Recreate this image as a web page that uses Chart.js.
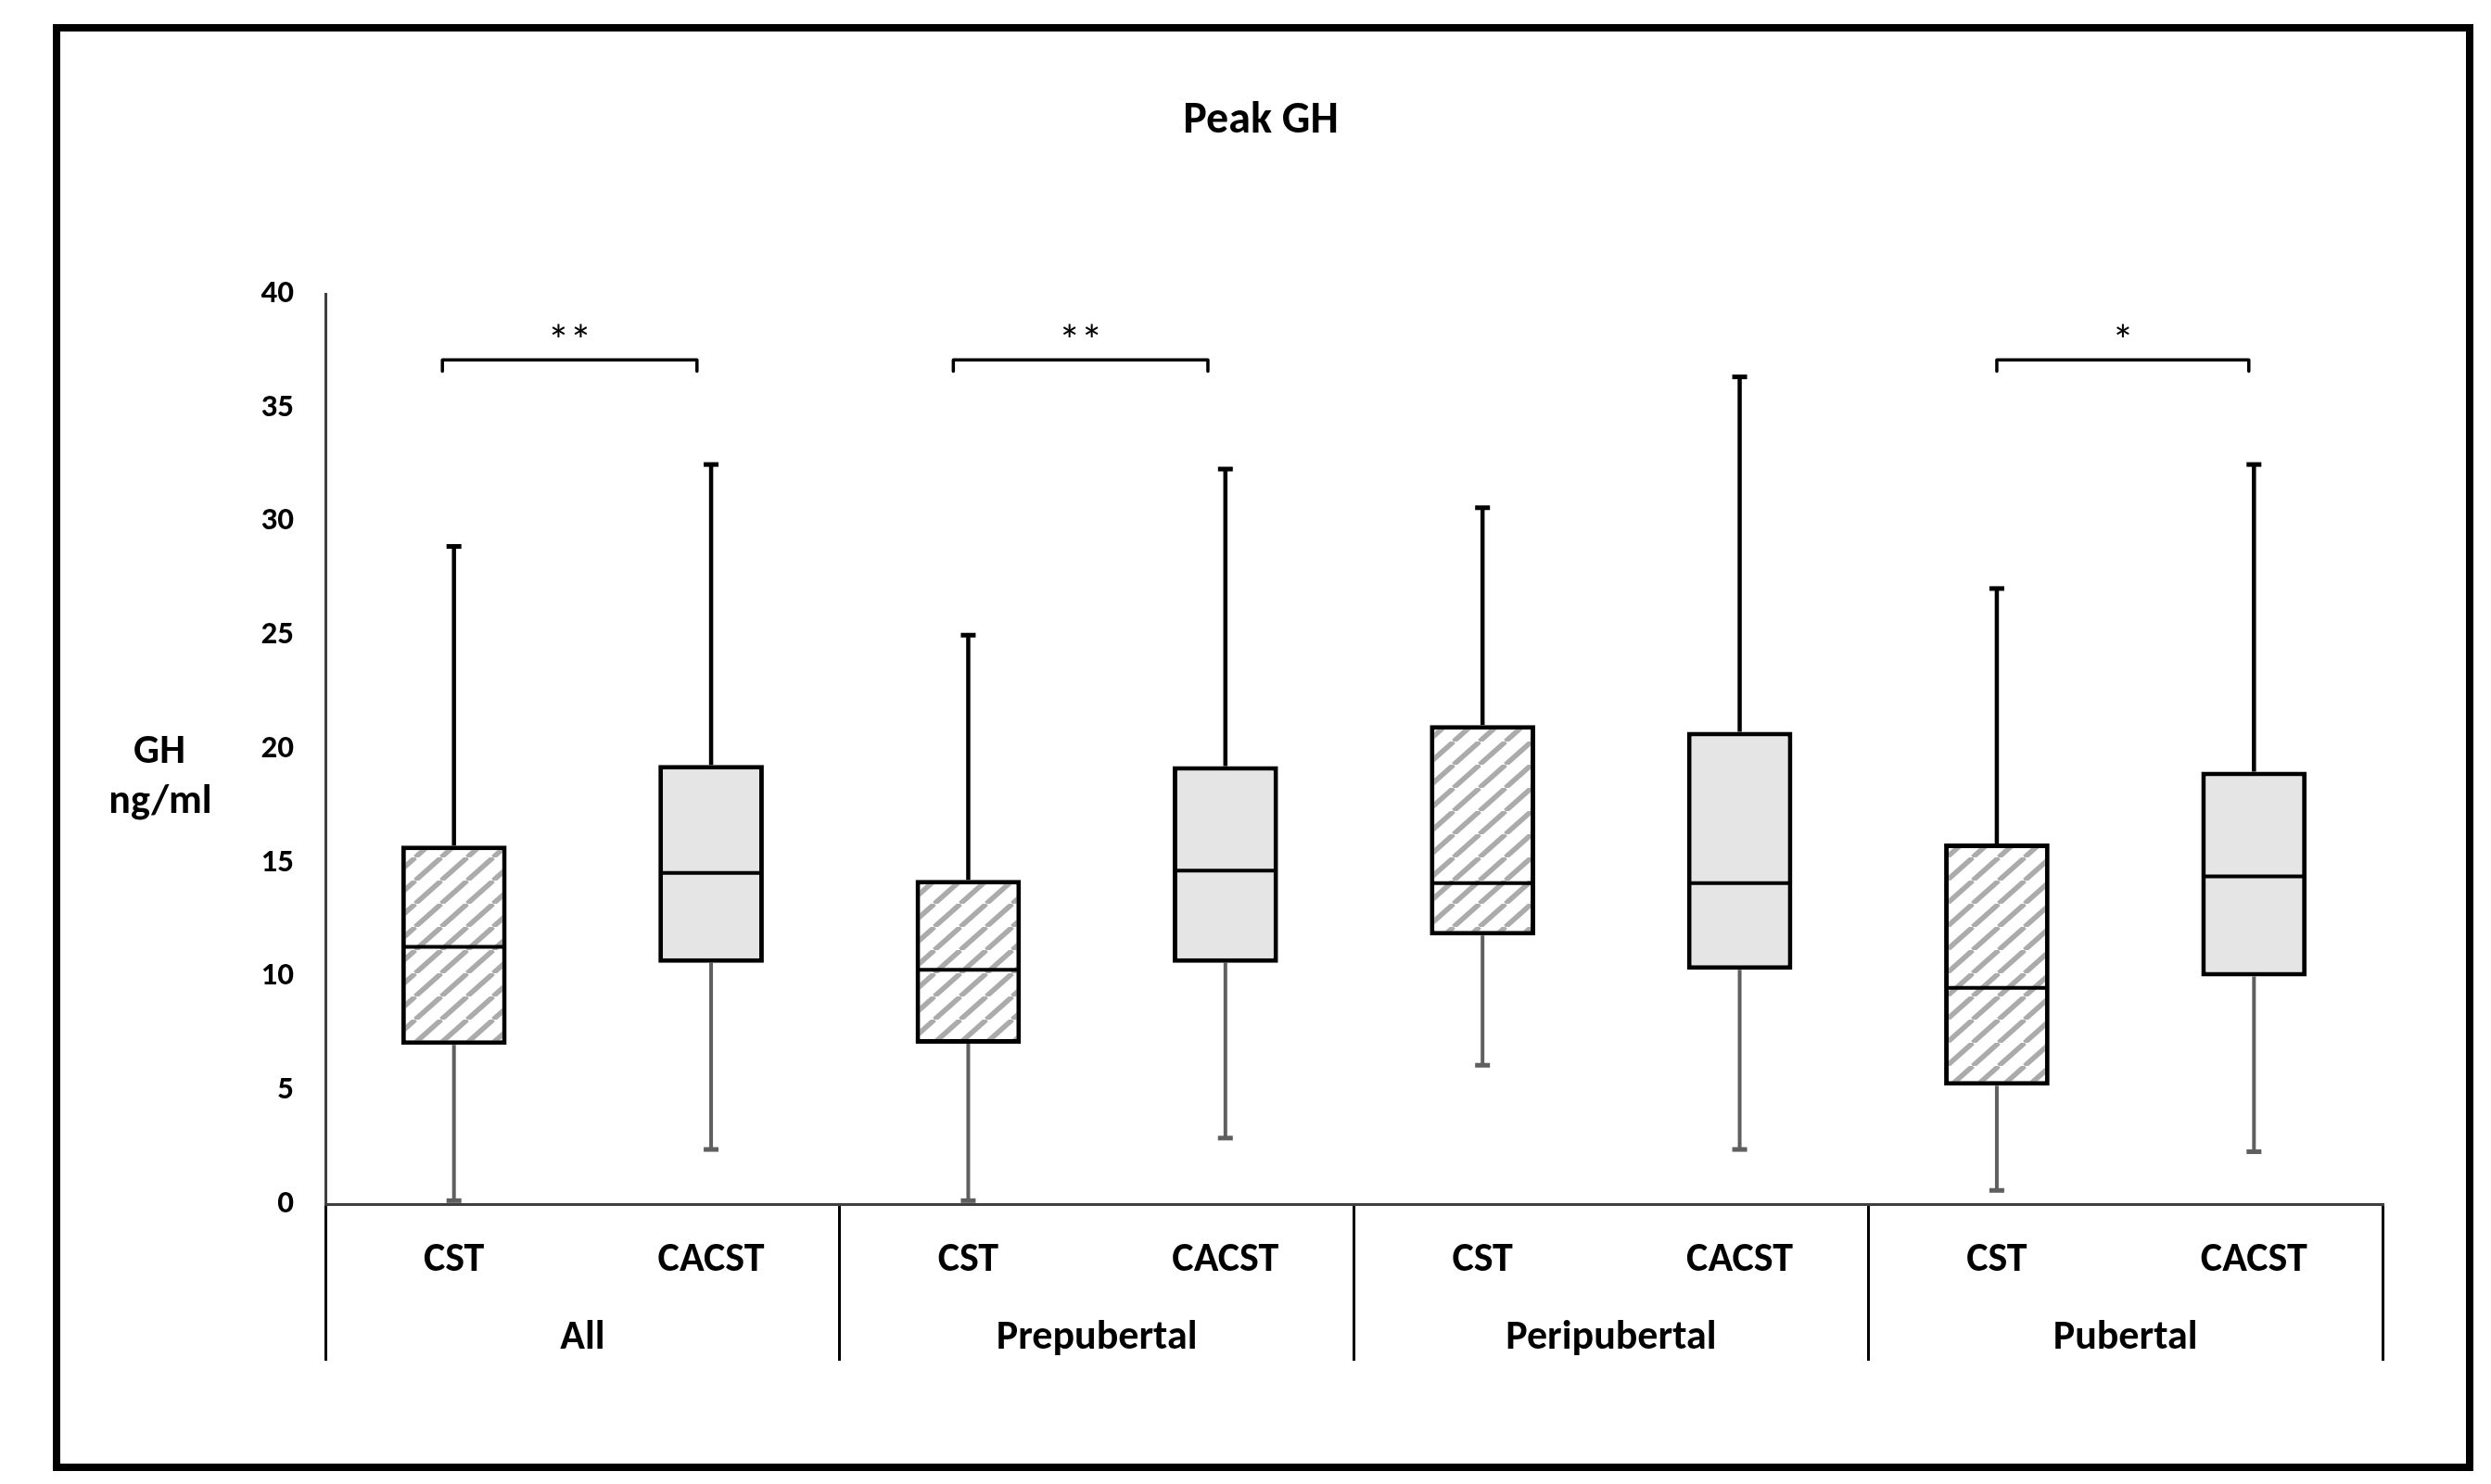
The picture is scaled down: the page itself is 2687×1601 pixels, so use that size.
<!DOCTYPE html>
<html>
<head>
<meta charset="utf-8">
<script src="https://cdn.jsdelivr.net/npm/chart.js@4.4.1/dist/chart.umd.min.js"></script>
<style>
  html, body { margin: 0; padding: 0; background: #ffffff; }
  #wrap { position: relative; width: 2687px; height: 1601px; }
</style>
</head>
<body>
<div id="wrap"><canvas id="c"></canvas></div>
<script>
// ---------------- data ----------------
const categories = ['CST', 'CACST', 'CST', 'CACST', 'CST', 'CACST', 'CST', 'CACST'];
const groups = ['All', 'Prepubertal', 'Peripubertal', 'Pubertal'];
const whiskerLow  = [0.15, 2.4, 0.15, 2.9, 6.1, 2.4, 0.6, 2.3];
const q1          = [7.0, 10.6, 7.05, 10.6, 11.8, 10.3, 5.2, 10.0];
const median      = [11.3, 14.55, 10.3, 14.65, 14.1, 14.1, 9.5, 14.4];
const q3          = [15.75, 19.3, 14.25, 19.25, 21.05, 20.75, 15.85, 19.0];
const whiskerHigh = [28.9, 32.5, 25.0, 32.3, 30.6, 36.35, 27.05, 32.5];
const yMin = 0, yMax = 40, yStep = 5;
const sigFrom  = [0, 2, 6];
const sigTo    = [1, 3, 7];
const sigLabel = ['**', '**', '*'];
const titleText = 'Peak GH';
const yTitleLines = ['GH', 'ng/ml'];

// ---------------- styles ----------------
const FONT = 'Carlito, Lato, "Open Sans", sans-serif';
Chart.defaults.font.family = FONT;
Chart.defaults.color = '#000';

// bracket end nudges, in category units (annotation layout only)
const bracketNudge = [[-0.045, -0.055], [-0.058, -0.068], [0.0, -0.02]];

const canvas = document.getElementById('c');
const ctx0 = canvas.getContext('2d');

function makeHatch() {
  const tw = 28, th = 25;
  const c = document.createElement('canvas');
  c.width = tw; c.height = th;
  const g = c.getContext('2d');
  g.fillStyle = '#ffffff';
  g.fillRect(0, 0, tw, th);
  g.strokeStyle = '#ababab';
  g.lineWidth = 5.5;
  for (const dx of [-tw, 0, tw]) {
    g.beginPath();
    g.moveTo(dx, th);
    g.lineTo(dx + tw, 0);
    g.stroke();
  }
  return ctx0.createPattern(c, 'repeat');
}
const hatch = makeHatch();
const boxFill = categories.map((c) => c === 'CST' ? hatch : '#e5e5e5');

// ---------------- plugins ----------------
function seg(ctx, x1, y1, x2, y2) {
  ctx.beginPath(); ctx.moveTo(x1, y1); ctx.lineTo(x2, y2); ctx.stroke();
}

const whiskerPlugin = {
  id: 'whiskers',
  beforeDatasetsDraw(chart) {
    const ctx = chart.ctx, y = chart.scales.y;
    const meta = chart.getDatasetMeta(0);
    ctx.save();
    ctx.lineCap = 'butt';
    meta.data.forEach((bar, i) => {
      const x = bar.x;
      // upper whisker (black)
      ctx.strokeStyle = '#000';
      ctx.lineWidth = 4.5;
      seg(ctx, x, y.getPixelForValue(q3[i]), x, y.getPixelForValue(whiskerHigh[i]));
      ctx.lineWidth = 5;
      seg(ctx, x - 8, y.getPixelForValue(whiskerHigh[i]), x + 8, y.getPixelForValue(whiskerHigh[i]));
      // lower whisker (grey)
      ctx.strokeStyle = '#5f5f5f';
      ctx.lineWidth = 4;
      seg(ctx, x, y.getPixelForValue(q1[i]), x, y.getPixelForValue(whiskerLow[i]));
      ctx.lineWidth = 5;
      seg(ctx, x - 8, y.getPixelForValue(whiskerLow[i]), x + 8, y.getPixelForValue(whiskerLow[i]));
    });
    ctx.restore();
  },
  afterDatasetsDraw(chart) {
    const ctx = chart.ctx, y = chart.scales.y, xs = chart.scales.x;
    const meta = chart.getDatasetMeta(0);
    ctx.save();
    ctx.strokeStyle = '#000';
    ctx.lineWidth = 4;
    meta.data.forEach((bar, i) => {
      const x = bar.x, w = bar.width;
      const py = y.getPixelForValue(median[i]);
      seg(ctx, x - w / 2 + 2, py, x + w / 2 - 2, py);
    });
    // significance brackets
    ctx.lineWidth = 3.5;
    ctx.lineJoin = 'round';
    ctx.lineCap = 'round';
    ctx.fillStyle = '#000';
    ctx.font = '500 48px ' + FONT;
    ctx.textAlign = 'center';
    ctx.textBaseline = 'alphabetic';
    const yb = y.getPixelForValue(37.1);
    const yt = y.getPixelForValue(36.6);
    const ys = y.getPixelForValue(37.3);
    sigFrom.forEach((f, k) => {
      const xl = xs.getPixelForValue(f + bracketNudge[k][0]);
      const xr = xs.getPixelForValue(sigTo[k] + bracketNudge[k][1]);
      ctx.beginPath();
      ctx.moveTo(xl, yt); ctx.lineTo(xl, yb); ctx.lineTo(xr, yb); ctx.lineTo(xr, yt);
      ctx.stroke();
      ctx.fillText(sigLabel[k], (xl + xr) / 2, ys);
    });
    ctx.restore();
  },
  afterDraw(chart) {
    const ctx = chart.ctx, y = chart.scales.y;
    ctx.save();
    // y-axis title (horizontal, two lines)
    ctx.fillStyle = '#000';
    ctx.font = 'bold 44px ' + FONT;
    ctx.textAlign = 'center';
    ctx.textBaseline = 'alphabetic';
    const base = y.getPixelForValue(20);
    const xt = chart.chartArea.left - 179;
    ctx.fillText(yTitleLines[0], xt, base + 15);
    ctx.fillText(yTitleLines[1], xt + 1, base + 69);
    // outer frame
    ctx.strokeStyle = '#000';
    ctx.lineWidth = 8;
    ctx.strokeRect(61, 30, 2603, 1553);
    ctx.restore();
  }
};

// ---------------- chart ----------------
new Chart(canvas, {
  type: 'bar',
  data: {
    labels: categories,
    datasets: [{
      data: q1.map((v, i) => [v, q3[i]]),
      backgroundColor: boxFill,
      borderColor: '#000',
      borderWidth: 5,
      borderSkipped: false,
      barPercentage: 0.41,
      categoryPercentage: 1.0
    }]
  },
  options: {
    responsive: true,
    maintainAspectRatio: false,
    animation: false,
    devicePixelRatio: 1,
    layout: { padding: { left: 150, right: 117, top: 0, bottom: 102 } },
    plugins: {
      legend: { display: false },
      tooltip: { enabled: false },
      title: {
        display: true,
        text: titleText,
        color: '#000',
        font: { size: 48, weight: 'bold', family: FONT },
        padding: { top: 102, bottom: 157.4 }
      }
    },
    scales: {
      y: {
        min: yMin, max: yMax,
        afterFit(s) { s.width = 201; },
        ticks: { stepSize: yStep, padding: 34, color: '#000', font: { size: 35, weight: 'bold' } },
        grid: { display: false, drawTicks: false },
        border: { display: true, color: '#3f3f3f', width: 3 }
      },
      x: {
        position: 'bottom',
        weight: 0,
        afterFit(s) { s.height = 100; },
        ticks: { padding: -134.4, maxRotation: 0, autoSkip: false, color: '#000', font: { size: 44, weight: 'bold' } },
        grid: {
          display: true,
          offset: true,
          drawOnChartArea: false,
          drawTicks: true,
          tickLength: 169,
          lineWidth: 3,
          tickWidth: 3,
          color: (c) => (c.index === undefined || c.index % 2 === 0) ? '#000' : 'rgba(0,0,0,0)',
          tickColor: (c) => (c.index === undefined || c.index % 2 === 0) ? '#000' : 'rgba(0,0,0,0)'
        },
        border: { display: true, color: '#3f3f3f', width: 3 }
      },
      x2: {
        type: 'category',
        position: 'bottom',
        weight: 1,
        labels: groups,
        offset: true,
        afterFit(s) { s.height = 100; },
        ticks: { padding: 18.6, maxRotation: 0, autoSkip: false, color: '#000', font: { size: 44, weight: 'bold' } },
        grid: { display: false, drawTicks: false },
        border: { display: false }
      }
    }
  },
  plugins: [whiskerPlugin]
});
</script>
</body>
</html>
